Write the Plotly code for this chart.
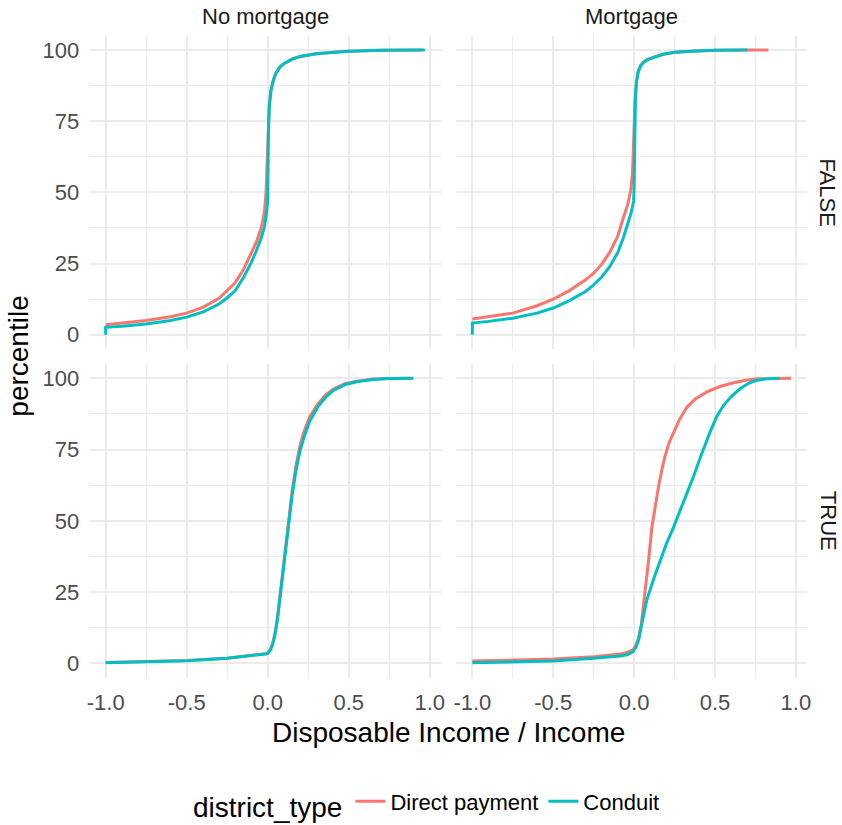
import plotly.graph_objects as go

# ---------------- data ----------------
series_names = ["Direct payment", "Conduit"]
series_colors = ["#F8766D", "#00BFC4"]
col_labels = ["No mortgage", "Mortgage"]
row_labels = ["FALSE", "TRUE"]
x_tick_vals = [-1.0, -0.5, 0.0, 0.5, 1.0]
x_tick_text = ["-1.0", "-0.5", "0.0", "0.5", "1.0"]
y_tick_vals = [0, 25, 50, 75, 100]
y_tick_text = ["0", "25", "50", "75", "100"]

# No mortgage / FALSE
nm_f_direct_x = [-1, -0.9, -0.75, -0.6, -0.5, -0.4, -0.3, -0.25, -0.2, -0.15, -0.1, -0.07, -0.04, -0.02, -0.01, -0.004, 0,
                 0.003, 0.01, 0.02, 0.035, 0.05, 0.075, 0.1, 0.15, 0.2, 0.3, 0.4, 0.5, 0.7, 0.95]
nm_f_direct_y = [3.5, 4.0, 5.0, 6.3, 7.6, 9.6, 12.8, 15.5, 18.3, 22.8, 28.5, 32.5, 37.5, 43, 50, 60, 68,
                 75, 81, 86, 89.5, 91.8, 94, 95.2, 96.8, 97.7, 98.7, 99.2, 99.6, 99.9, 100]
nm_f_conduit_x = [-1, -1, -0.9, -0.75, -0.6, -0.5, -0.4, -0.3, -0.25, -0.2, -0.15, -0.1, -0.07, -0.04, -0.02, -0.01, 0,
                  0.002, 0.005, 0.01, 0.02, 0.035, 0.05, 0.075, 0.1, 0.15, 0.2, 0.3, 0.4, 0.5, 0.7, 0.97]
nm_f_conduit_y = [0, 2.6, 3.0, 3.8, 5.0, 6.2, 8.0, 10.8, 13.0, 15.5, 20, 25.5, 29.5, 34, 38, 41.5, 47,
                  60, 72, 80, 85.5, 89.3, 91.7, 94, 95.2, 96.8, 97.7, 98.7, 99.2, 99.6, 99.9, 100]

# Mortgage / FALSE
m_f_direct_x = [-1, -0.9, -0.75, -0.6, -0.5, -0.4, -0.3, -0.25, -0.2, -0.15, -0.1, -0.064, -0.04, -0.02, -0.01, -0.003, 0,
                0.005, 0.015, 0.025, 0.04, 0.06, 0.08, 0.12, 0.18, 0.25, 0.35, 0.5, 0.7, 0.83]
m_f_direct_y = [5.5, 6.3, 7.6, 10.2, 12.5, 15.5, 19.3, 21.6, 24.8, 29, 34.8, 41.5, 45.5, 51, 57, 68, 74,
                82, 89, 92.5, 94.6, 95.8, 96.6, 97.5, 98.5, 99.2, 99.6, 99.9, 100, 100]
m_f_conduit_x = [-1, -1, -0.9, -0.75, -0.6, -0.5, -0.4, -0.3, -0.25, -0.2, -0.15, -0.1, -0.064, -0.04, -0.02, -0.01, -0.003, 0,
                 0.003, 0.008, 0.015, 0.025, 0.04, 0.06, 0.08, 0.12, 0.18, 0.25, 0.35, 0.5, 0.7]
m_f_conduit_y = [0, 4.1, 4.7, 5.8, 7.6, 9.4, 12, 15.2, 17.5, 20.3, 24, 29, 34.5, 38.5, 42.5, 45, 47, 52,
                 70, 83.6, 89, 92.2, 94.4, 95.7, 96.5, 97.4, 98.5, 99.2, 99.6, 99.9, 100]

# No mortgage / TRUE
nm_t_direct_x = [-1, -0.75, -0.5, -0.25, -0.15, -0.09, -0.04, -0.01, 0, 0.015, 0.03, 0.045, 0.06, 0.075, 0.09, 0.11, 0.13,
                 0.15, 0.175, 0.2, 0.225, 0.26, 0.31, 0.36, 0.41, 0.48, 0.55, 0.65, 0.75, 0.88]
nm_t_direct_y = [0.3, 0.55, 1.0, 1.8, 2.4, 2.7, 3.1, 3.4, 3.6, 4.8, 6.8, 10.5, 16, 23.5, 31.5, 41.5, 51.5,
                 60, 69.5, 76.5, 81.5, 86.5, 91, 94.3, 96.4, 98.2, 99, 99.7, 99.9, 100]
nm_t_conduit_x = [-1, -0.75, -0.5, -0.25, -0.15, -0.09, -0.04, -0.01, 0, 0.015, 0.03, 0.045, 0.06, 0.075, 0.09, 0.11, 0.13,
                  0.15, 0.175, 0.2, 0.225, 0.26, 0.31, 0.36, 0.41, 0.48, 0.55, 0.65, 0.75, 0.9]
nm_t_conduit_y = [0.25, 0.5, 0.9, 1.75, 2.3, 2.6, 3.0, 3.3, 3.5, 4.5, 6.4, 10, 15.2, 22.5, 30.4, 40.5, 50.3,
                  58.5, 67.8, 74.5, 79.5, 85, 90, 93.5, 95.9, 97.8, 98.8, 99.6, 99.9, 100]

# Mortgage / TRUE
m_t_direct_x = [-1, -0.75, -0.5, -0.25, -0.15, -0.085, -0.04, -0.007, 0.01, 0.027, 0.045, 0.068, 0.09, 0.11, 0.13, 0.15,
                0.17, 0.19, 0.215, 0.244, 0.28, 0.327, 0.38, 0.45, 0.53, 0.615, 0.69, 0.76, 0.86, 0.97]
m_t_direct_y = [0.8, 1.1, 1.5, 2.3, 2.8, 3.3, 3.9, 4.7, 6.3, 8.8, 14, 24.6, 36.5, 47.8, 55.5, 61.8,
                67.5, 72.4, 77.2, 81.2, 85.5, 89.9, 92.8, 95.2, 97.1, 98.4, 99.3, 99.8, 100, 100]
m_t_conduit_x = [-1, -0.75, -0.5, -0.25, -0.15, -0.085, -0.04, -0.007, 0.01, 0.027, 0.05, 0.078, 0.12, 0.16, 0.2, 0.244,
                 0.285, 0.327, 0.37, 0.41, 0.44, 0.47, 0.51, 0.553, 0.6, 0.657, 0.71, 0.76, 0.82, 0.9]
m_t_conduit_y = [0.25, 0.5, 0.8, 1.75, 2.2, 2.6, 3.1, 4, 5.5, 8.1, 14.5, 22.1, 29.5, 36.1, 42, 47.8,
                 53.5, 59.5, 66, 72.4, 77, 81.2, 86.5, 90.5, 93.6, 96.4, 98.3, 99.3, 99.8, 100]

panels = [
    ("x", "y", [(nm_f_direct_x, nm_f_direct_y), (nm_f_conduit_x, nm_f_conduit_y)]),
    ("x2", "y2", [(m_f_direct_x, m_f_direct_y), (m_f_conduit_x, m_f_conduit_y)]),
    ("x3", "y3", [(nm_t_direct_x, nm_t_direct_y), (nm_t_conduit_x, nm_t_conduit_y)]),
    ("x4", "y4", [(m_t_direct_x, m_t_direct_y), (m_t_conduit_x, m_t_conduit_y)]),
]

# ---------------- figure ----------------
W, H = 842, 825
FONT = "Liberation Sans, Arial, sans-serif"

fig = go.Figure()
for i, (xa, ya, series) in enumerate(panels):
    for s, (xs, ys) in enumerate(series):
        fig.add_trace(go.Scatter(
            x=xs, y=ys, mode="lines", xaxis=xa, yaxis=ya,
            name=series_names[s], legendgroup=series_names[s],
            showlegend=(i == 0),
            line=dict(color=series_colors[s], width=3),
            hoverinfo="skip",
        ))

col_px = [(89.7, 440.8), (456.4, 807.0)]
row_px = [(35.75, 349.0), (364.0, 677.6)]
x_range = [-1.0985, 1.0685]
y_range = [-5, 105]
GRID = "#EBEBEB"

def xp(v):
    return v / W

def yp(v):
    return 1 - v / H

def xdom(c):
    return [xp(col_px[c][0]), xp(col_px[c][1])]

def ydom(r):
    return [yp(row_px[r][1]), yp(row_px[r][0])]

axes = {}
names = [("xaxis", "yaxis", "x", "y"), ("xaxis2", "yaxis2", "x2", "y2"),
         ("xaxis3", "yaxis3", "x3", "y3"), ("xaxis4", "yaxis4", "x4", "y4")]
positions = [(0, 0), (0, 1), (1, 0), (1, 1)]
for (xn, yn, xr, yr), (r, c) in zip(names, positions):
    axes[xn] = dict(
        domain=xdom(c), anchor=yr, range=x_range, tickvals=x_tick_vals, ticktext=x_tick_text,
        showticklabels=(r == 1), showgrid=True, gridcolor=GRID, gridwidth=1.6, zeroline=False,
        showline=False, ticks="outside" if r == 1 else "", ticklen=5, tickcolor="rgba(0,0,0,0)",
        tickfont=dict(family=FONT, size=22, color="#4D4D4D"), automargin=False,
        minor=dict(dtick=0.25, tick0=-0.75, showgrid=True, gridcolor=GRID, gridwidth=0.8),
    )
    axes[yn] = dict(
        domain=ydom(r), anchor=xr, range=y_range, tickvals=y_tick_vals, ticktext=y_tick_text,
        showticklabels=(c == 0), showgrid=True, gridcolor=GRID, gridwidth=1.6, zeroline=False,
        showline=False, ticks="outside" if c == 0 else "", ticklen=5, tickcolor="rgba(0,0,0,0)",
        tickfont=dict(family=FONT, size=22, color="#4D4D4D"), automargin=False,
        minor=dict(dtick=12.5, tick0=12.5, showgrid=True, gridcolor=GRID, gridwidth=0.8),
    )

annotations = []
for c, lab in enumerate(col_labels):
    annotations.append(dict(
        text=lab, xref="paper", yref="paper",
        x=xp((col_px[c][0] + col_px[c][1]) / 2), y=yp(16),
        xanchor="center", yanchor="middle", showarrow=False,
        font=dict(family=FONT, size=22, color="#1A1A1A"),
    ))
for r, lab in enumerate(row_labels):
    annotations.append(dict(
        text=lab, xref="paper", yref="paper",
        x=xp(828), y=yp((row_px[r][0] + row_px[r][1]) / 2),
        xanchor="center", yanchor="middle", showarrow=False, textangle=90,
        font=dict(family=FONT, size=22, color="#1A1A1A"),
    ))
annotations.append(dict(
    text="Disposable Income / Income", xref="paper", yref="paper",
    x=xp((col_px[0][0] + col_px[1][1]) / 2), y=yp(732),
    xanchor="center", yanchor="middle", showarrow=False,
    font=dict(family=FONT, size=28, color="#000000"),
))
annotations.append(dict(
    text="percentile", xref="paper", yref="paper",
    x=xp(19), y=yp((row_px[0][0] + row_px[1][1]) / 2),
    xanchor="center", yanchor="middle", showarrow=False, textangle=-90,
    font=dict(family=FONT, size=28, color="#000000"),
))

fig.update_layout(
    width=W, height=H, autosize=False,
    margin=dict(l=0, r=0, t=0, b=0, autoexpand=False),
    paper_bgcolor="white", plot_bgcolor="white",
    annotations=annotations,
    legend=dict(
        orientation="h", x=xp(428), y=yp(804), xanchor="center", yanchor="middle",
        title=dict(text="district_type", font=dict(family=FONT, size=28, color="#000000")),
        font=dict(family=FONT, size=22, color="#000000"),
        itemwidth=30, bgcolor="rgba(0,0,0,0)",
    ),
    **axes,
)

# remove the browser's default 8px page margin so the figure fills the window
fig.write_html(
    "out.html",
    config={"displayModeBar": False},
    post_script="document.body.style.margin='0';document.body.style.overflow='hidden';",
)
